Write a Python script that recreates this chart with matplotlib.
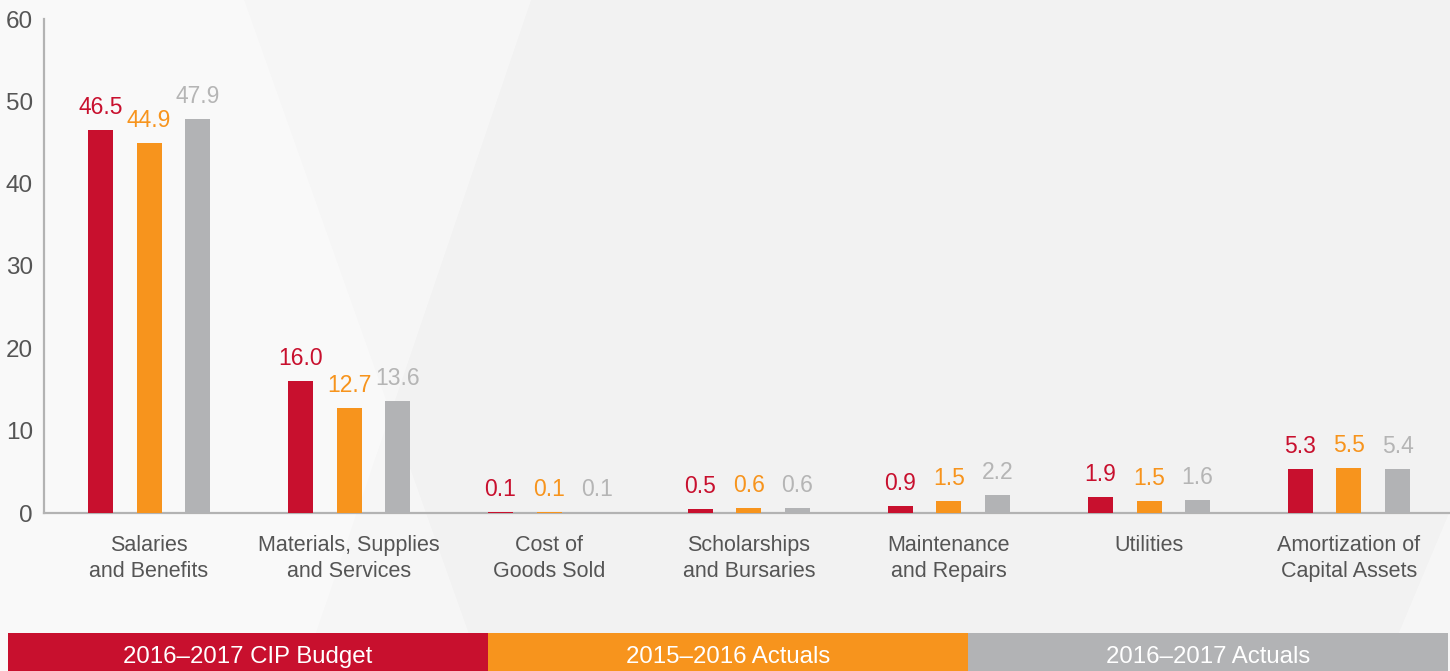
import matplotlib
matplotlib.use("Agg")
import matplotlib.pyplot as plt
from matplotlib.patches import Polygon, Rectangle
import numpy as np

plt.rcParams['font.family'] = ['Liberation Sans', 'DejaVu Sans']

categories = ["Salaries\nand Benefits", "Materials, Supplies\nand Services",
              "Cost of\nGoods Sold", "Scholarships\nand Bursaries",
              "Maintenance\nand Repairs", "Utilities", "Amortization of\nCapital Assets"]
series_names = ["2016\u20132017 CIP Budget", "2015\u20132016 Actuals", "2016\u20132017 Actuals"]
budget_1617 = [46.5, 16.0, 0.1, 0.5, 0.9, 1.9, 5.3]
actuals_1516 = [44.9, 12.7, 0.1, 0.6, 1.5, 1.5, 5.5]
actuals_1617 = [47.9, 13.6, 0.1, 0.6, 2.2, 1.6, 5.4]
yticks = [0, 10, 20, 30, 40, 50, 60]

colors = ["#C8102E", "#F7941D", "#B2B3B5"]
label_colors = ["#C8102E", "#F7941D", "#B5B5B5"]
text_gray = "#555555"

W, H = 1450, 671
fig = plt.figure(figsize=(W / 100, H / 100), dpi=100)
fig.patch.set_facecolor("#F2F2F2")

def px(x, y):
    return (x / W, 1 - y / H)

# background shapes
for pts in ([(0, 0), (244, 0), (482, 671), (0, 671)],
            [(0, 0), (531, 0), (303, 671), (0, 671)],
            [(1450, 511), (1450, 671), (1383, 671)]):
    fig.add_artist(Polygon([px(*p) for p in pts], closed=True, transform=fig.transFigure,
                           facecolor="white", edgecolor="none", alpha=0.38, zorder=0))

ax = fig.add_axes([44 / W, (H - 513) / H, (W - 44) / W, (513 - 19) / H])
ax.set_facecolor("none")

x = np.arange(len(categories))
offset = 0.2425
width = 0.125
all_series = [budget_1617, actuals_1516, actuals_1617]
for i, vals in enumerate(all_series):
    xs = x + (i - 1) * offset
    ax.bar(xs, vals, width=width, color=colors[i], zorder=3)
    for xi, v in zip(xs, vals):
        ax.annotate(f"{v:.1f}", (xi, v), xytext=(0, 11.5), textcoords="offset points",
                    ha="center", va="baseline", fontsize=16.5, color=label_colors[i])

ax.set_xlim(-0.525, len(categories) - 1 + 0.505)
ax.set_ylim(0, 60)
ax.set_yticks(yticks)
ax.set_yticklabels([str(t) for t in yticks])
ax.set_xticks(x)
ax.set_xticklabels(categories, linespacing=1.32)
ax.tick_params(axis="y", length=0, pad=8, labelsize=17.5, labelcolor=text_gray)
ax.tick_params(axis="x", length=0, pad=16, labelsize=15.5, labelcolor=text_gray)
for s in ["top", "right"]:
    ax.spines[s].set_visible(False)
for s in ["left", "bottom"]:
    ax.spines[s].set_color("#B3B3B3")
    ax.spines[s].set_linewidth(1.6)

# legend bar
lx0, lw = 8, 480
for i, name in enumerate(series_names):
    x0 = lx0 + i * lw
    fig.add_artist(Rectangle(px(x0, 671), lw / W, (671 - 633) / H, transform=fig.transFigure,
                             facecolor=colors[i], edgecolor="none", zorder=2))
    fig.text((x0 + lw / 2) / W, (H - 663) / H, name, ha="center", va="baseline",
             fontsize=17.3, color="white", zorder=3)

fig.savefig("out.png", dpi=100, facecolor=fig.get_facecolor())
